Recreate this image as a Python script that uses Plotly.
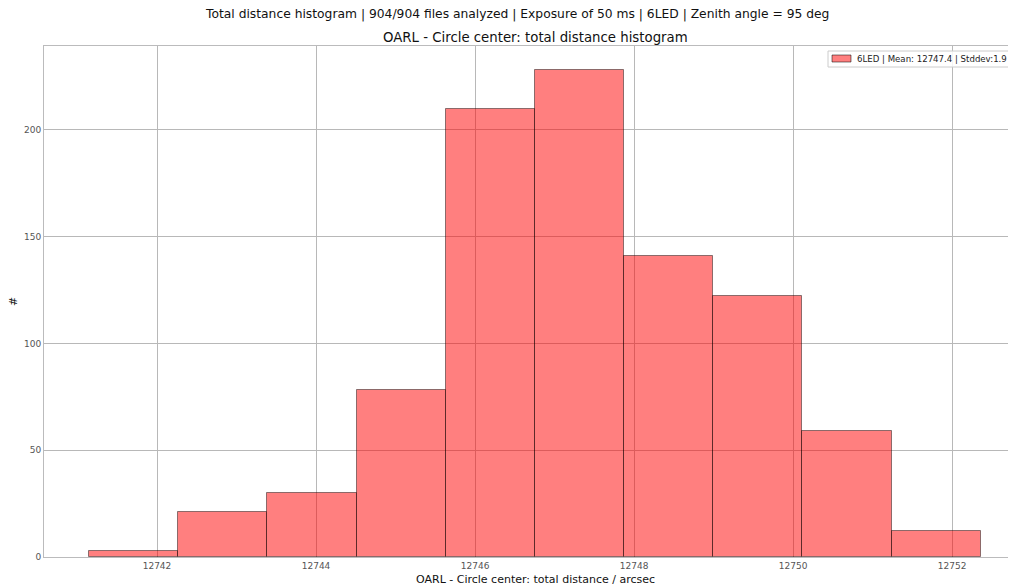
import plotly.graph_objects as go

# Data
bin_edges = [12741.145, 12742.264, 12743.384, 12744.516, 12745.635, 12746.755,
             12747.874, 12748.994, 12750.113, 12751.245, 12752.365]
counts = [3, 21, 30, 78, 210, 228, 141, 122, 59, 12]
x_ticks = [12742, 12744, 12746, 12748, 12750, 12752]
y_ticks = [0, 50, 100, 150, 200]
legend_label = "6LED | Mean: 12747.4 | Stddev:1.9"

lefts = bin_edges[:-1]
widths = [b - a for a, b in zip(bin_edges[:-1], bin_edges[1:])]

# The page has an 8px body margin, so the figure is 1008x580 and all
# reference pixel positions are shifted by OFF.
OFF = 8
W, H = 1008, 580
L, R, T, B = 44 - OFF, 1, 46 - OFF, 31
PW, PH = W - L - R, H - T - B

def px(xp):
    return (xp - OFF - L) / PW

def py(yp):
    return (H - B - (yp - OFF)) / PH

font = "DejaVu Sans"
fig = go.Figure()
fig.add_trace(go.Bar(
    x=lefts, y=counts, width=widths, offset=0,
    marker=dict(color="rgba(255,0,0,0.5)", line=dict(color="rgba(0,0,0,0.45)", width=1)),
    name=legend_label, showlegend=False,
))

fig.update_layout(
    width=W, height=H,
    margin=dict(l=L, r=R, t=T, b=B, autoexpand=False),
    paper_bgcolor="white", plot_bgcolor="white",
    font=dict(family=font, color="#555"),
    bargap=0,
    showlegend=False,
    xaxis=dict(range=[12740.579, 12752.79], tickvals=x_ticks,
               ticktext=[str(v) for v in x_ticks],
               showgrid=True, gridcolor="#b8b8b8", gridwidth=1,
               showline=True, linecolor="#bbbbbc", linewidth=1, mirror=True,
               ticks="", tickfont=dict(size=9, color="#555"), zeroline=False,
               automargin=False),
    yaxis=dict(range=[0, 239.3], tickvals=y_ticks,
               showgrid=True, gridcolor="#b8b8b8", gridwidth=1,
               showline=True, linecolor="#bbbbbc", linewidth=1, mirror=True,
               ticks="", tickfont=dict(size=9, color="#555"), zeroline=False,
               automargin=False),
)

anns = [
    ("Total distance histogram | 904/904 files analyzed | Exposure of 50 ms | 6LED | Zenith angle = 95 deg",
     517, 14, 12.3),
    ("OARL - Circle center: total distance histogram", 535, 37, 13.3),
    ("OARL - Circle center: total distance / arcsec", 535, 579, 11),
]
for text, xp, yp, sz in anns:
    fig.add_annotation(text=text, x=px(xp), y=py(yp), xref="paper", yref="paper",
                       xanchor="center", yanchor="middle", showarrow=False,
                       font=dict(size=sz, color="#111", family=font))
fig.add_annotation(text="#", x=px(13), y=py(302), xref="paper", yref="paper",
                   xanchor="center", yanchor="middle", showarrow=False, textangle=-90,
                   font=dict(size=11, color="#111", family=font))

# Legend drawn manually (cut off at the right edge like the reference)
fig.add_shape(type="rect", xref="paper", yref="paper",
              x0=px(828), x1=px(1030), y0=py(67), y1=py(51),
              line=dict(color="#cccccc", width=1), fillcolor="rgba(255,255,255,0.85)",
              layer="above")
fig.add_shape(type="rect", xref="paper", yref="paper",
              x0=px(832), x1=px(851), y0=py(62), y1=py(55),
              line=dict(color="rgba(0,0,0,0.5)", width=1), fillcolor="rgba(255,0,0,0.5)",
              layer="above")
fig.add_annotation(text=legend_label, x=px(855), y=py(59), xref="paper", yref="paper",
                   xanchor="left", yanchor="middle", showarrow=False,
                   font=dict(size=8.6, color="#222", family=font))

fig.write_html("out.html")
